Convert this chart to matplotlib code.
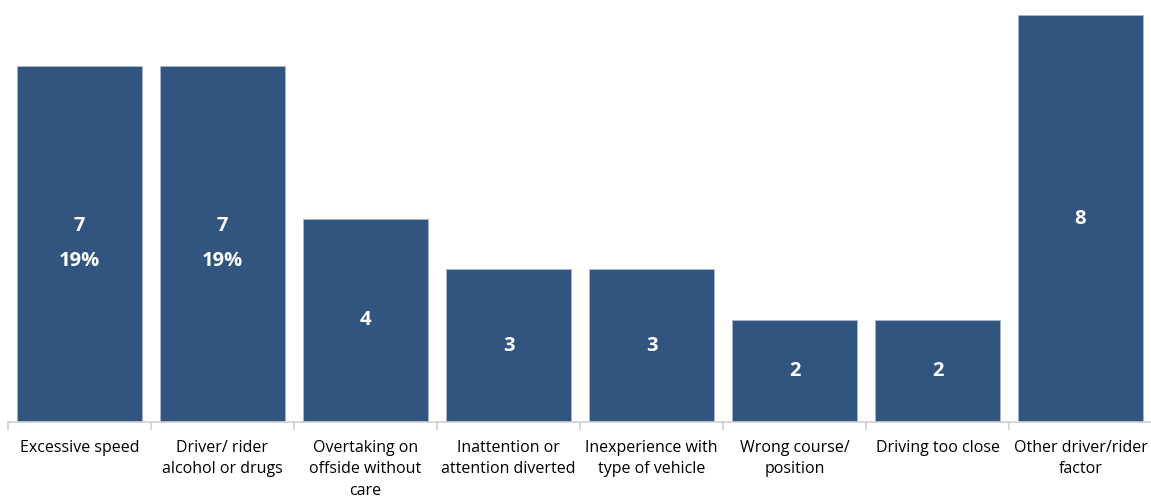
import matplotlib
matplotlib.use("Agg")
import matplotlib.pyplot as plt

# data
categories = ["Excessive speed", "Driver/ rider\nalcohol or drugs", "Overtaking on\noffside without\ncare",
              "Inattention or\nattention diverted", "Inexperience with\ntype of vehicle",
              "Wrong course/\nposition", "Driving too close", "Other driver/rider\nfactor"]
counts = [7, 7, 4, 3, 3, 2, 2, 8]
labels = ["7\n19%", "7\n19%", "4", "3", "3", "2", "2", "8"]

plt.rcParams['font.family'] = ['Open Sans', 'DejaVu Sans']

fig = plt.figure(figsize=(11.51, 4.96), dpi=100)
W, H = 1151, 496
ax = fig.add_axes([8 / W, (H - 422) / H, 1144 / W, 407 / H])

x = range(len(counts))
ax.bar(x, counts, width=0.874, color="#31557f", edgecolor="#a9b8cc", linewidth=0.6, zorder=2)

for i, (c, lab) in enumerate(zip(counts, labels)):
    ax.text(i, c / 2, lab, ha="center", va="center", color="white",
            fontsize=14.5, fontweight="bold", linespacing=2.0)

ax.set_xlim(-0.5, 7.5)
ax.set_ylim(0, 8)
ax.set_yticks([])
for s in ["top", "right", "left"]:
    ax.spines[s].set_visible(False)
ax.spines["bottom"].set_color("#d0d0d0")
ax.spines["bottom"].set_linewidth(1.2)

# ticks between categories
ax.set_xticks([i - 0.5 for i in range(len(counts) + 1)], minor=False)
ax.set_xticklabels([])
ax.tick_params(axis="x", length=6, color="#d0d0d0", width=1.2)
ax.set_xticks(list(x), minor=True)
ax.set_xticklabels(categories, minor=True, fontsize=11.5, linespacing=1.45)
ax.tick_params(axis="x", which="minor", length=0, pad=13)

fig.savefig("out.png", dpi=100)
